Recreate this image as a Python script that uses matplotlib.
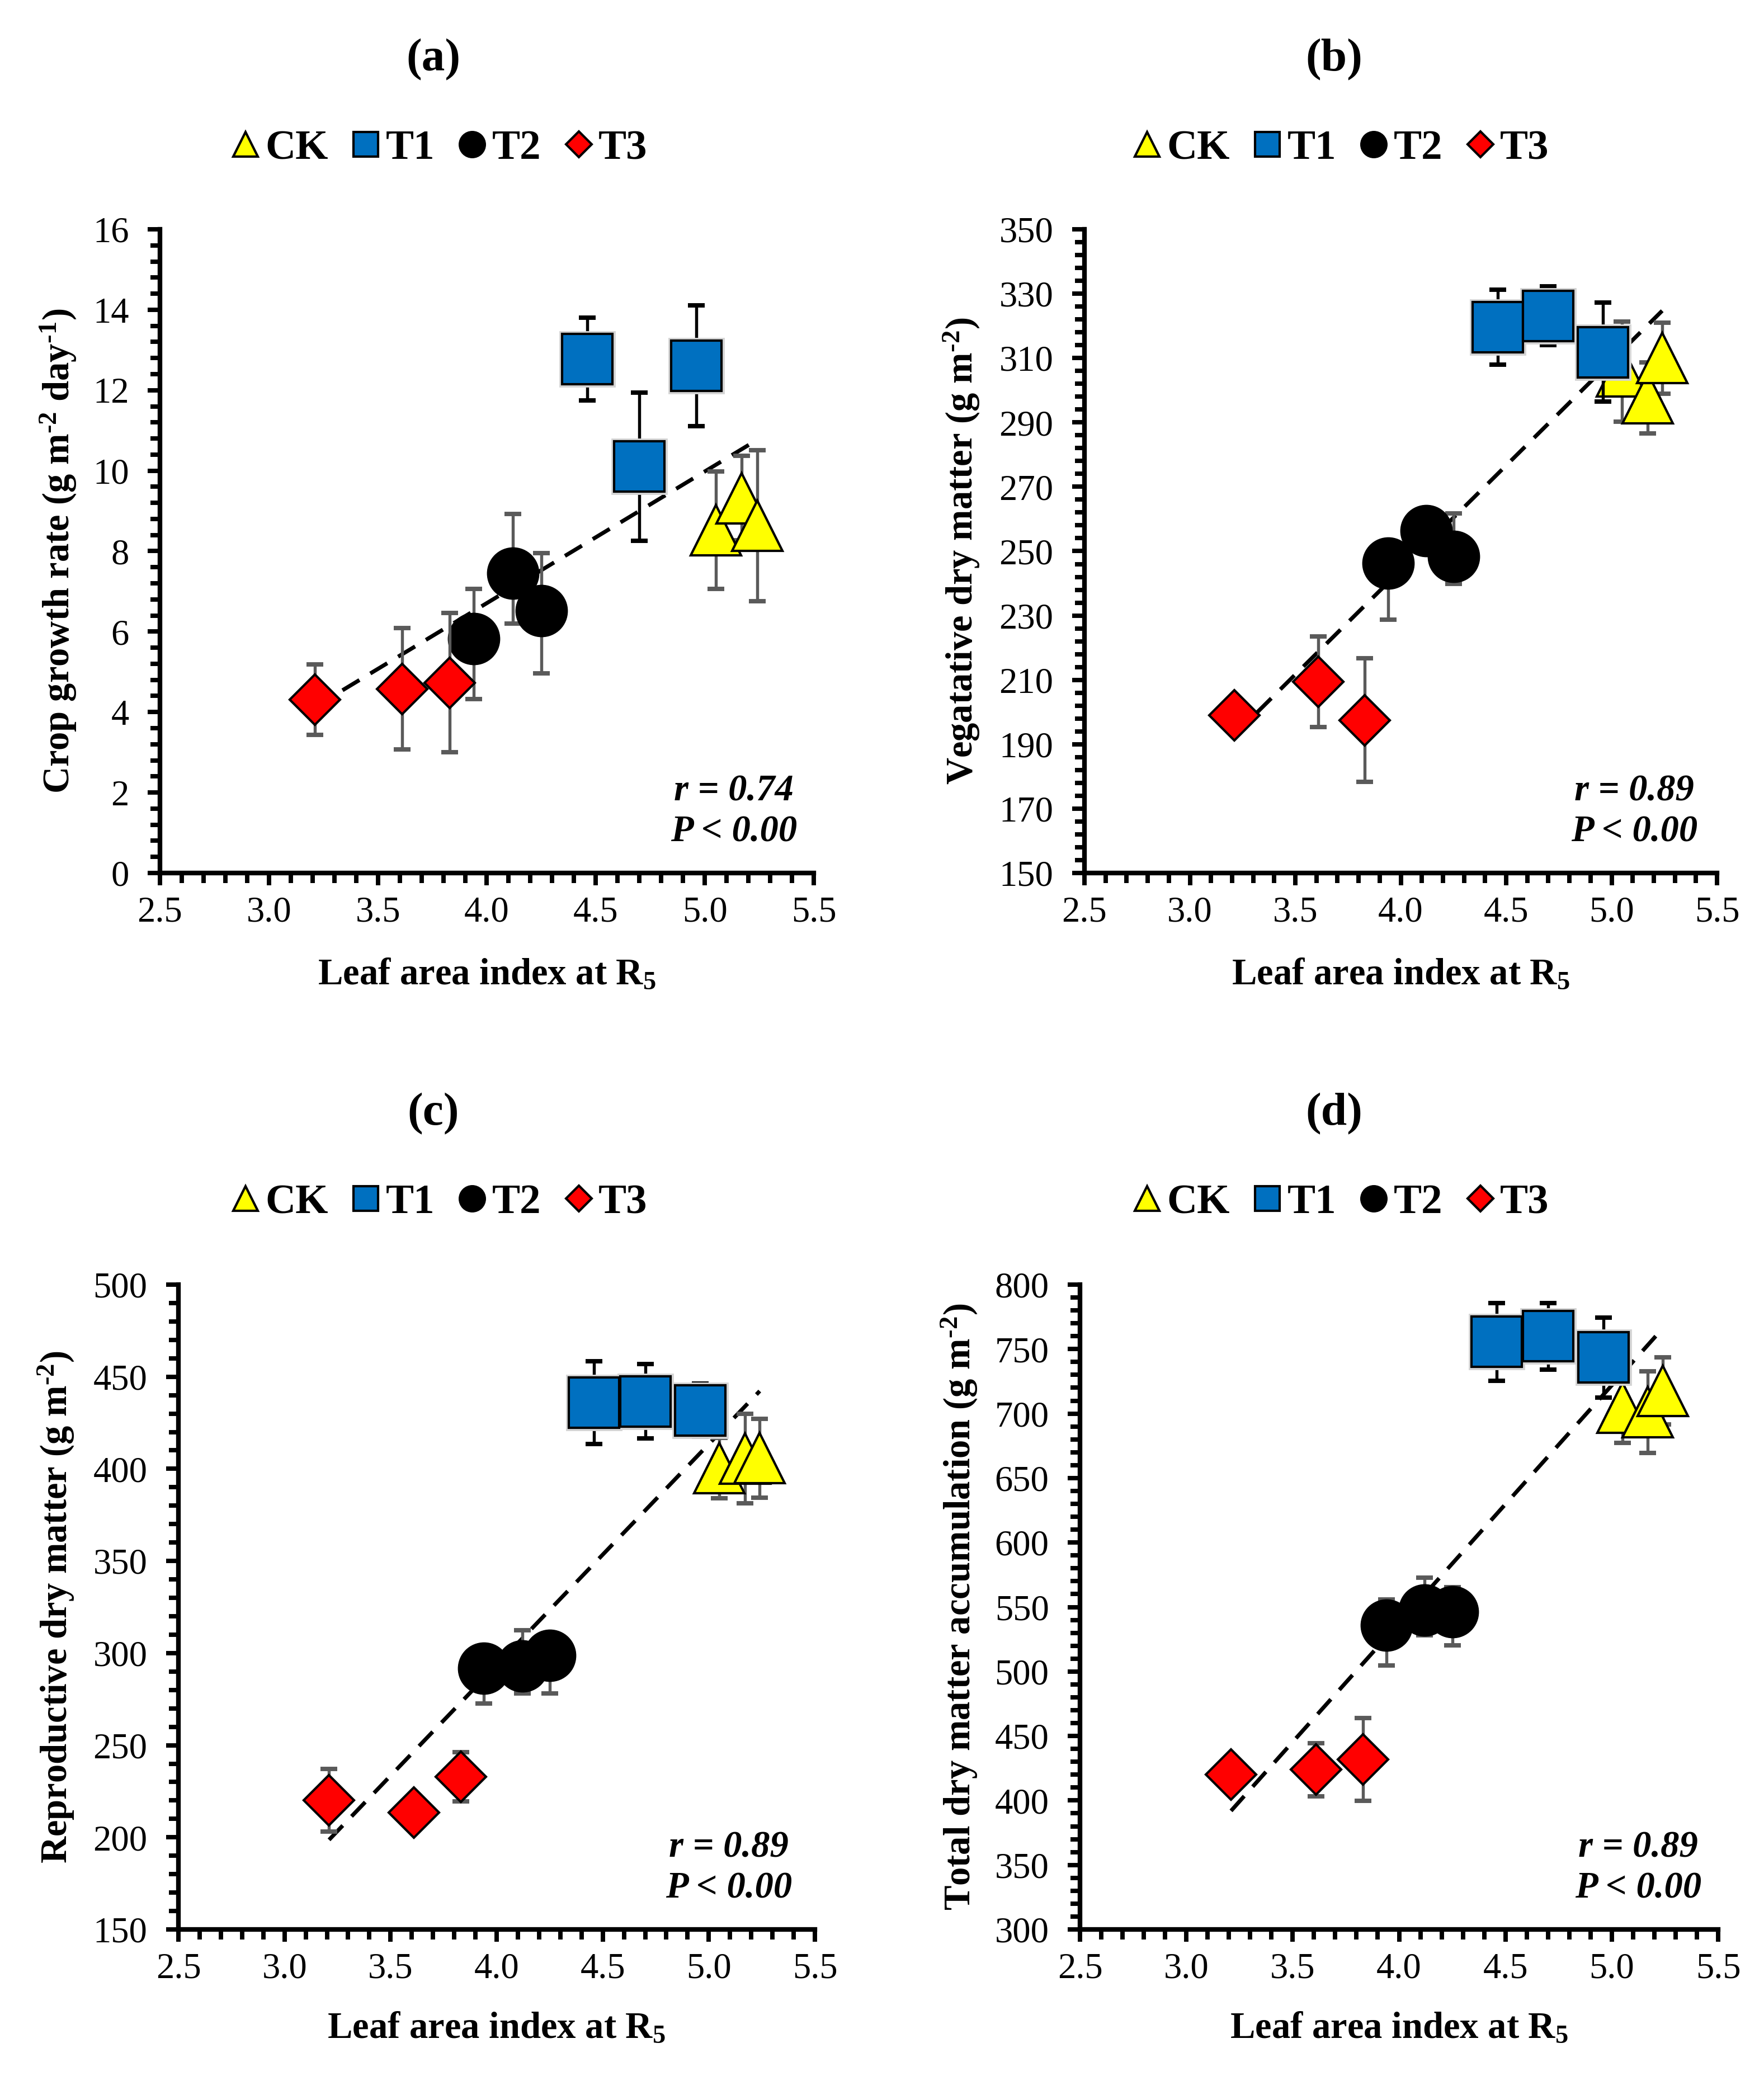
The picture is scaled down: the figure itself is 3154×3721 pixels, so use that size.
import numpy as np
import matplotlib
matplotlib.use("Agg")
import matplotlib.pyplot as plt
from matplotlib.ticker import FixedLocator, FormatStrFormatter

plt.rcParams['font.family'] = ['Liberation Serif', 'DejaVu Serif']
plt.rcParams['mathtext.fontset'] = 'custom'
plt.rcParams['mathtext.rm'] = 'Liberation Serif:bold'
plt.rcParams['mathtext.it'] = 'Liberation Serif:italic:bold'
plt.rcParams['mathtext.bf'] = 'Liberation Serif:bold'

# ---------------- data ----------------
treatments = ['CK', 'T1', 'T2', 'T3']

# Leaf area index at R5 (x values, shared by all panels)
lai_ck = [5.05, 5.17, 5.24]
lai_t1 = [4.46, 4.70, 4.96]
lai_t2 = [3.94, 4.12, 4.25]
lai_t3 = [3.21, 3.61, 3.83]

# error lists: [lower errors], [upper errors]
# (a) Crop growth rate (g m-2 day-1)
cgr_ck = [8.52, 9.32, 8.63]
cgr_ck_err = [[1.46, 1.05, 1.88], [1.46, 1.05, 1.88]]
cgr_t1 = [12.77, 10.10, 12.61]
cgr_t1_err = [[1.03, 1.84, 1.50], [1.03, 1.84, 1.50]]
cgr_t2 = [5.82, 7.45, 6.52]
cgr_t2_err = [[1.50, 1.25, 1.56], [1.24, 1.47, 1.43]]
cgr_t3 = [4.31, 4.58, 4.73]
cgr_t3_err = [[0.88, 1.51, 1.73], [0.88, 1.51, 1.73]]

# (b) Vegetative dry matter (g m-2)
vdm_ck = [305.8, 297.6, 310.0]
vdm_ck_err = [[15.5, 11.0, 11.0], [15.5, 11.0, 11.0]]
vdm_t1 = [319.6, 323.1, 311.8]
vdm_t1_err = [[11.6, 9.1, 15.4], [11.6, 9.1, 15.4]]
vdm_t2 = [246.3, 256.3, 248.3]
vdm_t2_err = [[17.5, 0.0, 8.5], [0.0, 0.0, 13.4]]
vdm_t3 = [199.0, 209.4, 197.5]
vdm_t3_err = [[0.0, 14.1, 19.2], [0.0, 14.1, 19.2]]

# (c) Reproductive dry matter (g m-2)
rdm_ck = [400.3, 405.5, 405.8]
rdm_ck_err = [[16.4, 24.3, 21.4], [16.4, 24.3, 21.4]]
rdm_t1 = [436.0, 436.7, 431.8]
rdm_t1_err = [[22.5, 20.3, 14.5], [22.5, 20.3, 14.5]]
rdm_t2 = [291.9, 293.0, 298.6]
rdm_t2_err = [[19.4, 15.0, 20.6], [0.0, 19.3, 0.0]]
rdm_t3 = [220.2, 213.3, 232.9]
rdm_t3_err = [[17.0, 0.0, 13.3], [17.0, 0.0, 13.3]]

# (d) Total dry matter accumulation (g m-2)
tdm_ck = [704.4, 701.0, 717.5]
tdm_ck_err = [[27.3, 31.6, 26.0], [27.3, 31.6, 26.0]]
tdm_t1 = [755.6, 759.9, 743.5]
tdm_t1_err = [[30.3, 26.0, 30.9], [30.3, 26.0, 30.9]]
tdm_t2 = [536.0, 547.6, 546.3]
tdm_t2_err = [[31.4, 19.6, 26.0], [20.0, 25.0, 19.0]]
tdm_t3 = [420.3, 423.9, 431.8]
tdm_t3_err = [[0.0, 20.7, 32.0], [0.0, 20.7, 32.0]]

panel_titles = ['(a)', '(b)', '(c)', '(d)']
y_labels = [r'Crop growth rate (g m$^{\text{-}2}$ day$^{\text{-}1}$)',
            r'Vegatative dry matter (g m$^{\text{-}2}$)',
            r'Reproductive dry matter (g m$^{\text{-}2}$)',
            r'Total dry matter accumulation (g m$^{\text{-}2}$)']
x_label = 'Leaf area index at R$_5$'
r_texts = ['r = 0.74', 'r = 0.89', 'r = 0.89', 'r = 0.89']
p_text = 'P < 0.00'
y_limits = [(0, 16), (150, 350), (150, 500), (300, 800)]
y_major = [2, 20, 50, 50]
x_limits = (2.5, 5.5)

# ---------------- styling ----------------
colors = {'CK': '#FFFF00', 'T1': '#0070C0', 'T2': '#000000', 'T3': '#FF0000'}
markers = {'CK': '^', 'T1': 's', 'T2': 'o', 'T3': 'D'}
msizes = {'CK': 21.5, 'T1': 21.5, 'T2': 21.5, 'T3': 15.3}
ecolors = {'CK': '#5A5A5A', 'T1': '#000000', 'T2': '#5A5A5A', 'T3': '#5A5A5A'}

W, H = 3154, 3721
fig = plt.figure(figsize=(W / 300, H / 300), dpi=300)

# axes rectangles in pixel coordinates (left, right, top, bottom)
rects_px = [(286, 1455, 410, 1561), (1939, 3070, 410, 1561),
            (319, 1457, 2297, 3450), (1931, 3072, 2297, 3450)]
title_pos = [(775, 107), (2385, 107), (775, 1992), (2385, 1992)]
legend_pos = [(784, 266), (2396, 266), (784, 2151), (2396, 2151)]
ylabel_x = [-0.155, -0.194, -0.192, -0.189]
xlabel_y = [-0.158, -0.158, -0.154, -0.154]
text_x = [0.878, 0.869, 0.865, 0.875]

lai_sets = [lai_ck, lai_t1, lai_t2, lai_t3]
panel_data = [
    [(cgr_ck, cgr_ck_err), (cgr_t1, cgr_t1_err), (cgr_t2, cgr_t2_err), (cgr_t3, cgr_t3_err)],
    [(vdm_ck, vdm_ck_err), (vdm_t1, vdm_t1_err), (vdm_t2, vdm_t2_err), (vdm_t3, vdm_t3_err)],
    [(rdm_ck, rdm_ck_err), (rdm_t1, rdm_t1_err), (rdm_t2, rdm_t2_err), (rdm_t3, rdm_t3_err)],
    [(tdm_ck, tdm_ck_err), (tdm_t1, tdm_t1_err), (tdm_t2, tdm_t2_err), (tdm_t3, tdm_t3_err)],
]

for i in range(4):
    l, r, t, b = rects_px[i]
    ax = fig.add_axes([l / W, 1 - b / H, (r - l) / W, (b - t) / H])

    # linear trend line from a least squares fit of all points
    all_x = np.concatenate([np.array(v) for v in lai_sets])
    all_y = np.concatenate([np.array(d[0]) for d in panel_data[i]])
    coef = np.polyfit(all_x, all_y, 1)
    xx = np.array([all_x.min(), all_x.max()])
    ax.plot(xx, np.polyval(coef, xx), color='black', lw=1.7,
            linestyle=(0, (5.0, 3.2)), zorder=1)

    handles = []
    for k, tr in enumerate(treatments):
        xs = lai_sets[k]
        ys, err = panel_data[i][k]
        ax.errorbar(xs, ys, yerr=np.array(err), fmt='none', ecolor=ecolors[tr],
                    elinewidth=1.3, capsize=3.7, capthick=1.9, zorder=2 + 3 * k)
        if tr == 'T1':
            ax.plot(xs, ys, linestyle='none', marker='s', ms=msizes[tr],
                    mfc='#D4D4D4', mec='#D4D4D4', mew=2.6, zorder=3 + 3 * k)
        h, = ax.plot(xs, ys, linestyle='none', marker=markers[tr], ms=msizes[tr],
                     mfc=colors[tr], mec='black', mew=1.0, zorder=4 + 3 * k,
                     label=tr)
        handles.append(h)

    ax.set_xlim(*x_limits)
    ax.set_ylim(*y_limits[i])
    y0, y1 = y_limits[i]
    ax.xaxis.set_major_locator(FixedLocator(np.arange(2.5, 5.51, 0.5)))
    ax.xaxis.set_minor_locator(FixedLocator(np.arange(2.5, 5.51, 0.1)))
    ax.xaxis.set_major_formatter(FormatStrFormatter('%.1f'))
    ax.yaxis.set_major_locator(FixedLocator(np.arange(y0, y1 + 1e-9, y_major[i])))
    ax.yaxis.set_minor_locator(FixedLocator(np.arange(y0, y1 + 1e-9, y_major[i] / 5)))
    ax.yaxis.set_major_formatter(FormatStrFormatter('%d'))

    for s in ['top', 'right']:
        ax.spines[s].set_visible(False)
    for s in ['left', 'bottom']:
        ax.spines[s].set_linewidth(2.0)
        ax.spines[s].set_capstyle('projecting')
    ax.tick_params(which='major', direction='out', length=5.3, width=1.9,
                   labelsize=15.5, color='black')
    ax.tick_params(which='minor', direction='out', length=4.2, width=1.9,
                   color='black')
    ax.tick_params(axis='y', which='major', pad=8)
    ax.tick_params(axis='x', which='major', pad=4.5)

    ax.set_xlabel(x_label, fontsize=16, fontweight='bold', va='center')
    ax.xaxis.set_label_coords(0.5, xlabel_y[i])
    ax.set_ylabel(y_labels[i], fontsize=16, fontweight='bold', va='center')
    ax.yaxis.set_label_coords(ylabel_x[i], 0.5)

    ax.text(text_x[i], 0.127, r_texts[i], transform=ax.transAxes, ha='center',
            va='center', fontsize=16, fontweight='bold', fontstyle='italic')
    ax.text(text_x[i], 0.063, p_text, transform=ax.transAxes, ha='center',
            va='center', fontsize=16, fontweight='bold', fontstyle='italic')

    tx, ty = title_pos[i]
    fig.text(tx / W, 1 - ty / H, panel_titles[i], ha='center', va='center',
             fontsize=20, fontweight='bold')
    lx, ly = legend_pos[i]
    fig.legend(handles, treatments, loc='center', bbox_to_anchor=(lx / W, 1 - ly / H),
               ncol=4, frameon=False, prop=dict(weight='bold', size=18),
               handlelength=0.75, handletextpad=0.1, columnspacing=0.52,
               markerscale=0.5, borderaxespad=0, borderpad=0)

fig.savefig('out.png', dpi=300, facecolor='white')
